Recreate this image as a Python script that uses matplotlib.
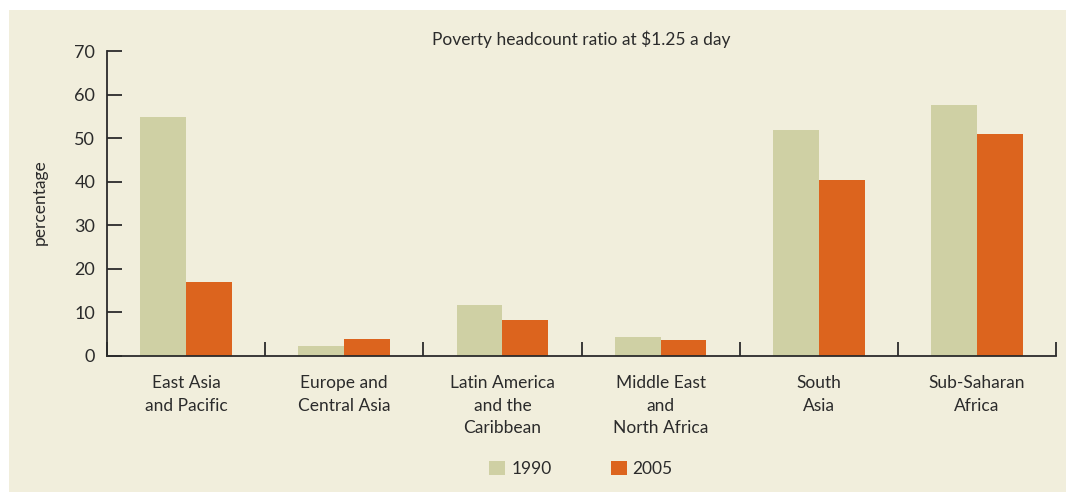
import matplotlib
matplotlib.use("Agg")
import matplotlib.pyplot as plt
from matplotlib.patches import Rectangle, Patch
import numpy as np

categories = ["East Asia\nand Pacific", "Europe and\nCentral Asia", "Latin America\nand the\nCaribbean",
              "Middle East\nand\nNorth Africa", "South\nAsia", "Sub-Saharan\nAfrica"]
values_1990 = [54.9, 2.4, 11.6, 4.4, 51.8, 57.6]
values_2005 = [17.0, 4.0, 8.3, 3.7, 40.4, 50.9]
series_names = ["1990", "2005"]
yticks = [0, 10, 20, 30, 40, 50, 60, 70]
title = "Poverty headcount ratio at $1.25 a day"
ylabel = "percentage"

C1990 = "#cfd0a4"
C2005 = "#dc641e"
BG = "#f1eedc"
TXT = "#2b2b2b"

plt.rcParams['font.family'] = ['Lato', 'DejaVu Sans']
plt.rcParams['font.size'] = 12.5

W, H = 1066, 492
fig = plt.figure(figsize=(W / 100, H / 100), dpi=100)
fig.patch.set_facecolor("white")
fig.patches.append(Rectangle((9 / W, 0), 1 - 9 / W, 1 - 10 / H, transform=fig.transFigure,
                             facecolor=BG, edgecolor="none", zorder=-10))

ax = fig.add_axes([107 / W, 1 - 356 / H, (1056 - 107) / W, (356 - 51) / H])
ax.set_facecolor("none")
ax.set_zorder(1)

x = np.arange(len(categories)) + 0.5
bw = 0.29
ax.bar(x - bw / 2, values_1990, width=bw, color=C1990, zorder=2)
ax.bar(x + bw / 2, values_2005, width=bw, color=C2005, zorder=2)

ax.set_xlim(0, len(categories))
ax.set_ylim(0, 70)
ax.set_yticks(yticks)
ax.set_xticks(np.arange(len(categories) + 1))
ax.set_xticklabels([])
ax.tick_params(axis="y", direction="in", length=11, width=1.3, color=TXT, labelcolor=TXT,
               pad=8.5, labelsize=13)
ax.tick_params(axis="x", direction="in", length=10, width=1.3, color=TXT)
for s in ["top", "right"]:
    ax.spines[s].set_visible(False)
for s in ["left", "bottom"]:
    ax.spines[s].set_linewidth(1.3)
    ax.spines[s].set_color(TXT)

for xi, lab in zip(x, categories):
    ax.annotate(lab, xy=(xi, 0), xycoords="data", xytext=(0, -14), textcoords="offset points",
                ha="center", va="top", color=TXT, linespacing=1.5)

ax.set_title(title, color=TXT, pad=0, y=(356 - 39) / (356 - 51), va="center", fontsize=12.5)
fig.text(40 / W, 1 - 202 / H, ylabel, rotation=90, ha="center", va="center", color=TXT)

handles = [Patch(facecolor=C1990, edgecolor="none"), Patch(facecolor=C2005, edgecolor="none")]
fig.legend(handles, series_names, loc="center", bbox_to_anchor=(581 / W, 1 - 469 / H), ncol=2,
           frameon=False, handlelength=0.92, handleheight=0.92, handletextpad=0.35,
           columnspacing=3.4, labelcolor=TXT, borderpad=0)

fig.savefig("out.png", dpi=100)
